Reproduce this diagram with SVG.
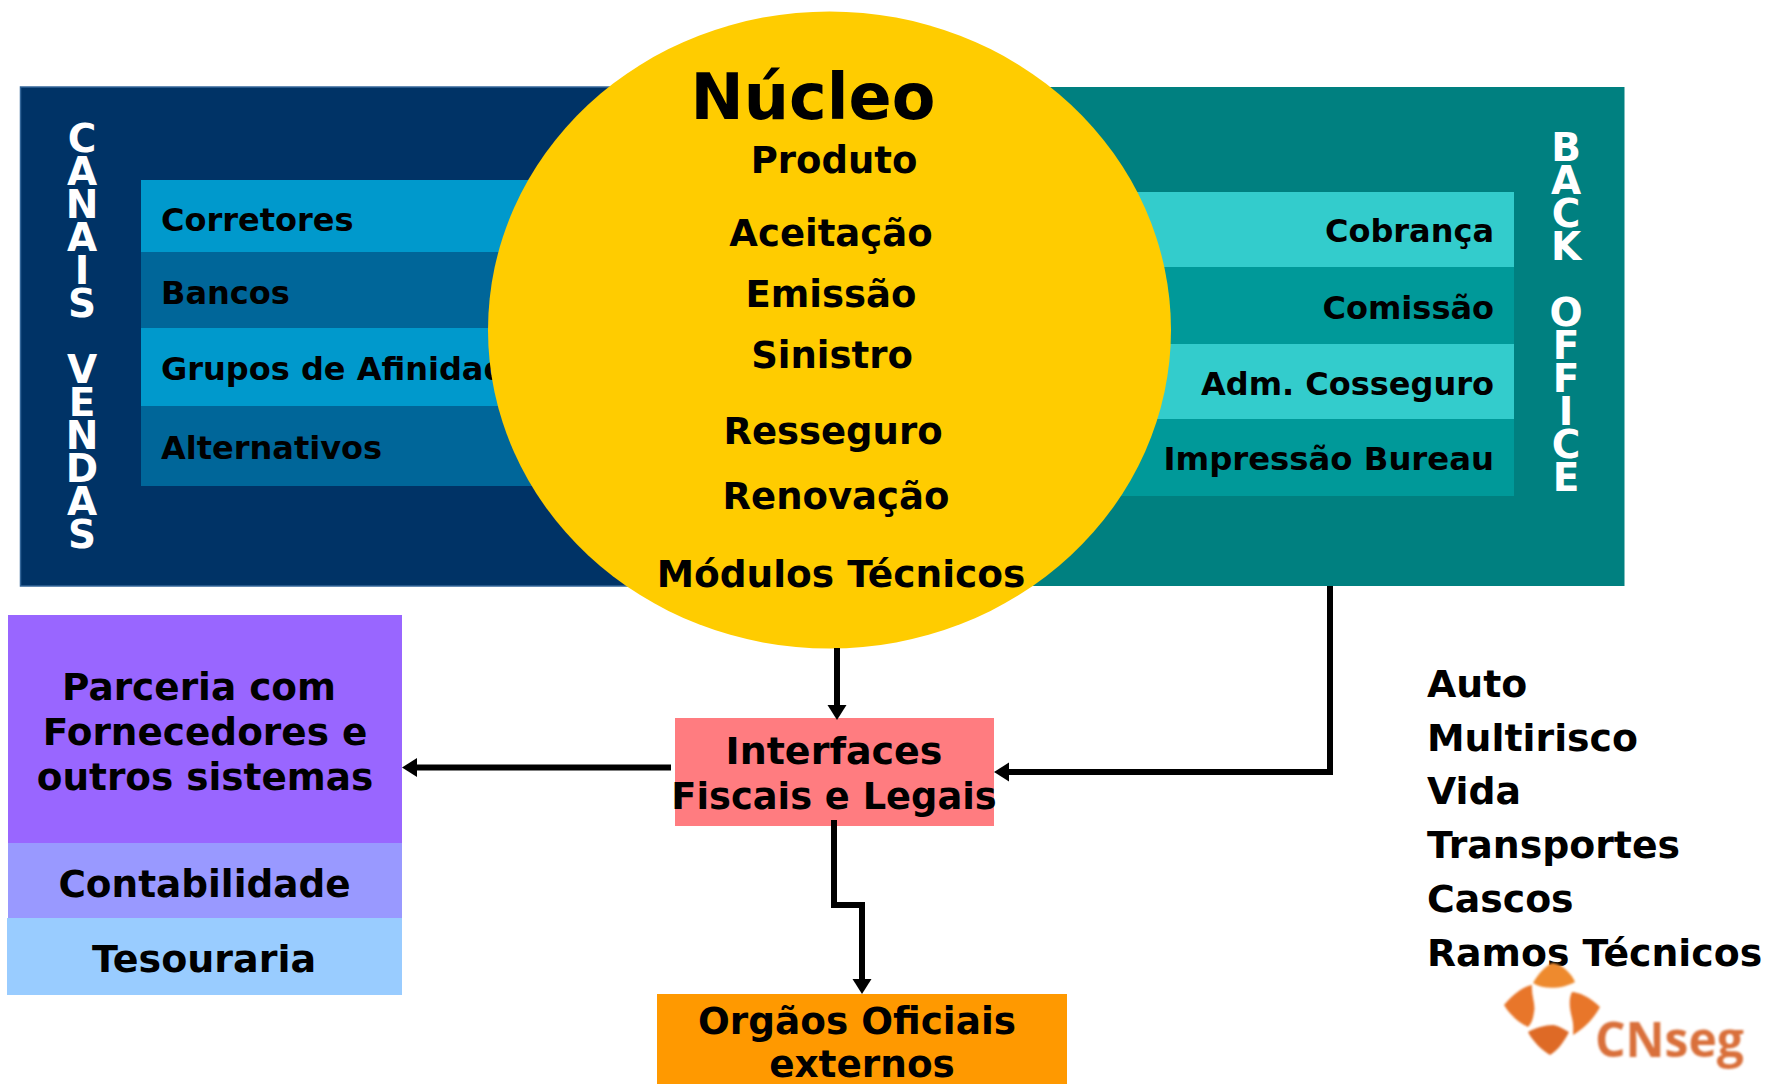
<svg xmlns="http://www.w3.org/2000/svg" width="1767" height="1084" viewBox="0 0 1767 1084">
<style>
text{font-family:"DejaVu Sans",Verdana,sans-serif;font-weight:bold;fill:#000}
.s{font-size:32px}
.c{font-size:37px;text-anchor:middle}
.b{font-size:37.400px;text-anchor:middle}
.v{font-size:39px;fill:#fff;writing-mode:vertical-rl;text-orientation:upright;letter-spacing:-12px}
.r{font-size:32px;text-anchor:end}
.l{font-size:37.800px}
.w{fill:none;stroke:#000;stroke-width:6}
</style>
<defs>
<marker id="ah" markerUnits="userSpaceOnUse" markerWidth="15" markerHeight="20" refX="6" refY="10" orient="auto"><path d="M0 0.500L15 10L0 19.500z" fill="#000"/></marker>
<filter id="soft" x="-5%" y="-5%" width="110%" height="110%"><feGaussianBlur stdDeviation="0.8"/></filter>
</defs>
<rect width="1767" height="1084" fill="#fff"/>
<g id="canais-vendas">
<rect x="20.500" y="87" width="620" height="499" fill="#003366" stroke="#336699" stroke-width="1.500"/>
<text class="v" x="82" y="116">CANAIS VENDAS</text>
</g>
<g id="back-office">
<rect x="900" y="87" width="724.500" height="499" fill="#008080"/>
<text class="v" x="1566" y="125">BACK OFFICE</text>
</g>
<g id="corretores"><rect x="141" y="180" width="460" height="73" fill="#0099CC"/><text class="s" x="161" y="231">Corretores</text></g>
<g id="bancos"><rect x="141" y="252" width="460" height="76" fill="#006699"/><text class="s" x="161" y="304">Bancos</text></g>
<g id="grupos"><rect x="141" y="328" width="460" height="78" fill="#0099CC"/><text class="s" x="161" y="380">Grupos de Afinidades</text></g>
<g id="alternativos"><rect x="141" y="406" width="460" height="80" fill="#006699"/><text class="s" x="161" y="459">Alternativos</text></g>
<g id="cobranca"><rect x="1080" y="192" width="434" height="75" fill="#33CCCC"/><text class="r" x="1494" y="242">Cobrança</text></g>
<g id="comissao"><rect x="1080" y="267" width="434" height="77" fill="#009999"/><text class="r" x="1494" y="319">Comissão</text></g>
<g id="cosseguro"><rect x="1080" y="344" width="434" height="75" fill="#33CCCC"/><text class="r" x="1494" y="395">Adm. Cosseguro</text></g>
<g id="impressao"><rect x="1080" y="419" width="434" height="77" fill="#009999"/><text class="r" x="1494" y="470" font-size="32.300" style="font-size:32.300px">Impressão Bureau</text></g>
<g id="nucleo">
<ellipse cx="829.500" cy="330" rx="341.500" ry="318.500" fill="#FFCC00"/>
<text x="813" y="119" text-anchor="middle" style="font-size:63.600px">Núcleo</text>
<text class="c" x="834" y="173">Produto</text>
<text class="c" x="831" y="246">Aceitação</text>
<text class="c" x="831" y="307">Emissão</text>
<text class="c" x="832" y="368">Sinistro</text>
<text class="c" x="833" y="444">Resseguro</text>
<text class="c" x="836" y="509">Renovação</text>
<text class="c" x="841" y="587" style="font-size:37.500px">Módulos Técnicos</text>
</g>
<g id="parceria"><rect x="8" y="615" width="394" height="228" fill="#9966FF"/><text class="b" x="199" y="700">Parceria com</text><text class="b" x="205" y="745">Fornecedores e</text><text class="b" x="205" y="790">outros sistemas</text></g>
<g id="contabilidade"><rect x="8" y="843" width="394" height="75" fill="#9999FF"/><text class="b" x="204.500" y="897">Contabilidade</text></g>
<g id="tesouraria"><rect x="7" y="918" width="395" height="77" fill="#99CCFF"/><text class="b" x="204" y="972" style="font-size:38px">Tesouraria</text></g>
<g id="interfaces"><rect x="675" y="718" width="319" height="108" fill="#FF7C80"/><text class="b" x="834" y="764" style="font-size:38px">Interfaces</text><text class="b" x="834" y="809" style="font-size:36.800px">Fiscais e Legais</text></g>
<g id="orgaos"><rect x="657" y="994" width="410" height="90" fill="#FF9900"/><text class="b" x="857" y="1034">Orgãos Oficiais</text><text class="b" x="862" y="1077">externos</text></g>
<g id="ramos"><text class="l" x="1427" y="697">Auto</text><text class="l" x="1427" y="751">Multirisco</text><text class="l" x="1427" y="804">Vida</text><text class="l" x="1427" y="858">Transportes</text><text class="l" x="1427" y="912">Cascos</text><text class="l" x="1427" y="966">Ramos Técnicos</text></g>
<g id="logo">
<g fill="#E8762C" filter="url(#soft)">
<path d="M1533 983C1540 970 1550 963 1553 963C1564 965 1572 975 1575 982C1565 988 1545 991 1533 983z" fill="#EE8A2E"/>
<path d="M1504 1005C1515 992 1525 986 1532 985C1531 995 1536 1005 1534 1012C1533 1020 1531 1024 1528 1027C1518 1022 1510 1015 1504 1005z"/>
<path d="M1600 1007C1590 997 1578 992 1572 992C1568 1000 1570 1010 1572 1018C1574 1026 1573 1032 1573 1035C1585 1028 1594 1018 1600 1007z"/>
<path d="M1528 1032C1535 1028 1545 1025 1553 1025C1560 1026 1565 1030 1569 1032C1564 1042 1558 1050 1550 1055C1542 1050 1533 1042 1528 1032z" fill="#DE6A28"/>
</g>
<text x="1595" y="1057" style="font-family:'Open Sans',sans-serif;font-size:48px;fill:#D9703A" filter="url(#soft)">CNseg</text>
</g>
<g id="connectors">
<path class="w" d="M837 648V711" marker-end="url(#ah)"/>
<path class="w" d="M671 767.500H411" marker-end="url(#ah)"/>
<path class="w" d="M1330 586V772H1003" marker-end="url(#ah)"/>
<path class="w" d="M834 820V905H862V985" marker-end="url(#ah)"/>
</g>
</svg>
